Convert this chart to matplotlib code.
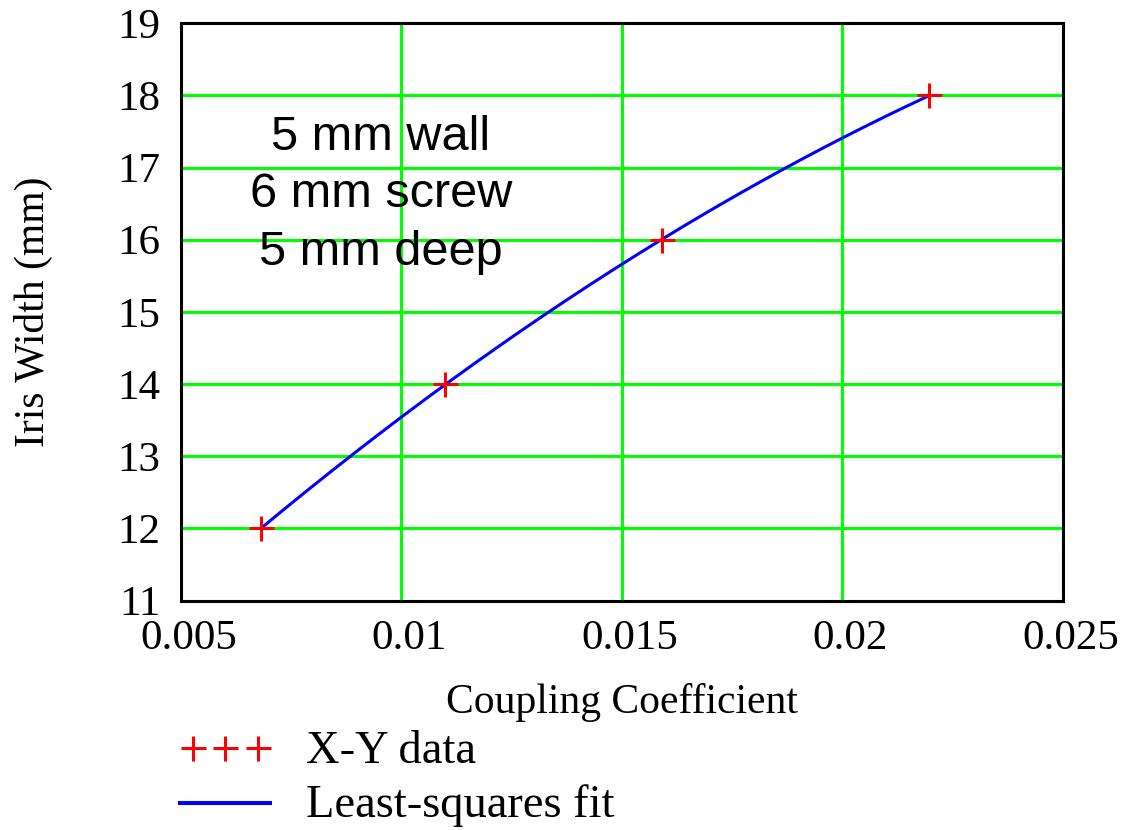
import numpy as np
import matplotlib
matplotlib.use("Agg")
from matplotlib import pyplot as plt
from matplotlib.lines import Line2D
from matplotlib.transforms import ScaledTranslation

# measured iris widths against coupling coefficient
coupling = [0.00682, 0.01099, 0.01591, 0.02197]
iris_width = [12, 14, 16, 18]

x_ticks = [0.005, 0.01, 0.015, 0.02, 0.025]
x_ticklabels = ["0.005", "0.01", "0.015", "0.02", "0.025"]
y_ticks = [11, 12, 13, 14, 15, 16, 17, 18, 19]
notes = ["5 mm wall", "6 mm screw", "5 mm deep"]

# second order least-squares fit through the data
coeffs = np.polyfit(coupling, iris_width, 2)
fit_x = np.linspace(coupling[0], coupling[-1], 200)
fit_y = np.polyval(coeffs, fit_x)

serif = "Liberation Serif"
sans = "Liberation Sans"
green = "#00ff00"

fig = plt.figure(figsize=(11.22, 8.30), dpi=100)
ax = fig.add_axes([0.1613, 0.2765, 0.7861, 0.6955])

ax.plot(fit_x, fit_y, color="#0000ff", lw=2.2, zorder=3)
ax.plot(coupling, iris_width, linestyle="none", marker="+", color="#ff0000",
        markersize=18, markeredgewidth=2.2, zorder=4)

ax.set_xlim(0.005, 0.025)
ax.set_ylim(11, 19)
ax.set_xticks(x_ticks)
ax.set_xticklabels(x_ticklabels)
ax.set_yticks(y_ticks)
ax.grid(True, color=green, lw=2.2)
ax.tick_params(length=0, labelsize=31)
ax.tick_params(axis="x", pad=14)
ax.tick_params(axis="y", pad=15)
for lab in ax.get_xticklabels() + ax.get_yticklabels():
    lab.set_fontfamily(serif)
shift = ScaledTranslation(8 / 100, 0, fig.dpi_scale_trans)
for lab in ax.get_xticklabels():
    lab.set_transform(lab.get_transform() + shift)
for sp in ax.spines.values():
    sp.set_linewidth(2.2)
    sp.set_color("black")
    sp.set_zorder(5)

ax.set_xlabel("Coupling Coefficient", fontsize=30, family=serif, labelpad=18)
ax.set_ylabel("Iris Width (mm)", fontsize=30, family=serif, labelpad=46)

for note, ty in zip(notes, [17.242, 16.452, 15.648]):
    ax.text(0.009535, ty, note, fontsize=35, family=sans, ha="center",
            va="baseline", zorder=6)

# legend drawn below the axes
W, H = 1122, 830
fig.add_artist(Line2D([192.5 / W, 225 / W, 257.5 / W], [1 - 748 / H] * 3,
                      linestyle="none", marker="+", color="#ff0000",
                      markersize=18, markeredgewidth=2.2))
fig.add_artist(Line2D([180 / W, 270 / W], [1 - 802.5 / H] * 2,
                      color="#0000ff", lw=2.9))
fig.text(306 / W, 1 - 752 / H, "X-Y data", fontsize=33.5, family=serif,
         va="center")
fig.text(306 / W, 1 - 806 / H, "Least-squares fit", fontsize=33.5,
         family=serif, va="center")

fig.savefig("out.png", dpi=100)
